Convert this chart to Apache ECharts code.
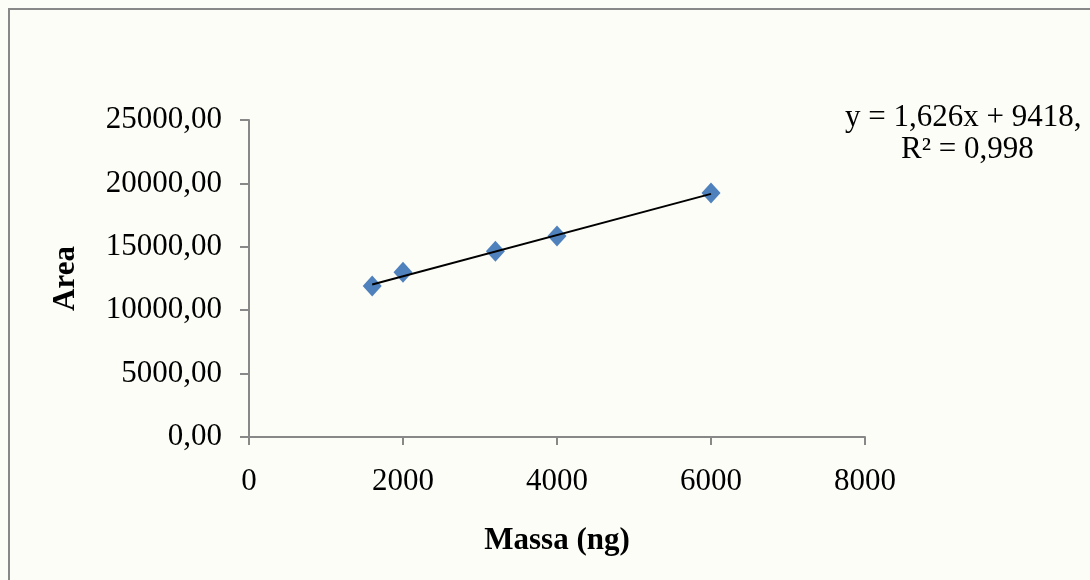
<!DOCTYPE html>
<html>
<head>
<meta charset="utf-8">
<script src="https://cdn.jsdelivr.net/npm/echarts@6/dist/echarts.min.js"></script>
<style>
  html, body { margin: 0; padding: 0; background: #fdfdf8; }
  #chart { width: 1090px; height: 580px; }
</style>
</head>
<body>
<div id="chart"></div>
<script>
// 测量点 (质量 ng, 峰面积)
const massa = [1600, 2000, 3200, 4000, 6000];
const area = [11900, 13000, 14650, 15850, 19250];
// 趋势线端点 y = 1,626x + 9418
const trendX = [1600, 6000];
const trendY = [12020, 19174];
const xTicks = [0, 2000, 4000, 6000, 8000];
const yTicks = [0, 5000, 10000, 15000, 20000, 25000];

const serif = '"Liberation Serif", "Times New Roman", serif';
const chart = echarts.init(document.getElementById('chart'));

chart.setOption({
  backgroundColor: '#fdfdf8',
  animation: false,
  grid: { left: 249, right: 225, top: 120, bottom: 143 },
  xAxis: {
    type: 'value',
    min: xTicks[0],
    max: xTicks[xTicks.length - 1],
    interval: 2000,
    name: 'Massa (ng)',
    nameLocation: 'middle',
    nameGap: 88,
    nameTextStyle: { fontFamily: serif, fontWeight: 'bold', fontSize: 31, color: '#000' },
    axisLine: { lineStyle: { color: '#888', width: 2 } },
    axisTick: { length: 8, lineStyle: { color: '#888', width: 2 } },
    axisLabel: {
      margin: 29, fontFamily: serif, fontSize: 31, color: '#000',
      formatter: v => String(v)
    },
    splitLine: { show: false }
  },
  yAxis: {
    type: 'value',
    min: yTicks[0],
    max: yTicks[yTicks.length - 1],
    interval: 5000,
    name: 'Area',
    nameLocation: 'middle',
    nameRotate: 90,
    nameGap: 168,
    nameTextStyle: { fontFamily: serif, fontWeight: 'bold', fontSize: 31, color: '#000' },
    axisLine: { show: true, lineStyle: { color: '#888', width: 2 } },
    axisTick: { show: true, length: 9, lineStyle: { color: '#888', width: 2 } },
    axisLabel: {
      margin: 27, fontFamily: serif, fontSize: 31, color: '#000',
      formatter: v => v.toFixed(2).replace('.', ',')
    },
    splitLine: { show: false }
  },
  series: [
    {
      type: 'line',
      data: trendX.map((x, i) => [x, trendY[i]]),
      symbol: 'none',
      lineStyle: { color: '#000', width: 2 },
      z: 3
    },
    {
      type: 'scatter',
      data: massa.map((x, i) => [x, area[i]]),
      symbol: 'diamond',
      symbolSize: [19, 21],
      itemStyle: { color: '#4f81bd', opacity: 1 },
      z: 2
    }
  ],
  graphic: [
    {
      type: 'rect',
      shape: { x: 9, y: 9, width: 1200, height: 700 },
      style: { fill: 'none', stroke: '#888', lineWidth: 2 },
      silent: true
    },
    {
      type: 'text', x: 845, y: 118,
      style: { text: 'y = 1,626x + 9418,', font: '31px ' + serif, fill: '#000', verticalAlign: 'middle' }
    },
    {
      type: 'text', x: 901, y: 150,
      style: { text: 'R² = 0,998', font: '31px ' + serif, fill: '#000', verticalAlign: 'middle' }
    }
  ]
});
</script>
</body>
</html>
